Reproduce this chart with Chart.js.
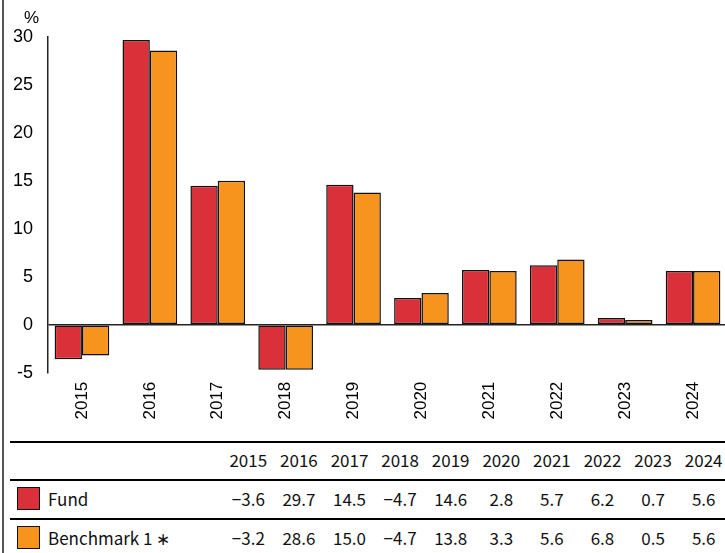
<!DOCTYPE html>
<html>
<head>
<meta charset="utf-8">
<script src="https://cdn.jsdelivr.net/npm/chart.js@4.4.1/dist/chart.umd.min.js"></script>
<style>
  html, body { margin: 0; padding: 0; background: #fff; width: 725px; height: 553px; overflow: hidden; position: relative; }
  #c { position: absolute; left: 0; top: 0; }
  .hline { position: absolute; left: 10px; width: 720px; height: 2px; background: #000; }
  .vborder { position: absolute; left: 2px; top: 0; width: 2px; height: 553px; background: #555; }
  .cell { position: absolute; font-family: "Noto Sans CJK JP", "Noto Sans", sans-serif; font-size: 17px; color: #111; text-align: center; line-height: 20px; white-space: nowrap; }
  .lab { position: absolute; font-family: "Noto Sans CJK JP", "Noto Sans", sans-serif; font-size: 17px; color: #111; line-height: 20px; white-space: nowrap; }
  .sw { position: absolute; left: 17px; width: 21px; height: 21px; border: 1.5px solid #111; }
</style>
</head>
<body>
<canvas id="c" width="730" height="440"></canvas>
<div class="vborder"></div>
<div id="table"></div>
<script>
const years = ['2015','2016','2017','2018','2019','2020','2021','2022','2023','2024'];
const fundValues = [-3.6, 29.7, 14.5, -4.7, 14.6, 2.8, 5.7, 6.2, 0.7, 5.6];
const benchValues = [-3.2, 28.6, 15.0, -4.7, 13.8, 3.3, 5.6, 6.8, 0.5, 5.6];
const seriesNames = ['Fund', 'Benchmark 1 \u2217'];
const yTicks = [30, 25, 20, 15, 10, 5, 0, -5];
const unitLabel = '%';

const RED = '#D9303A';
const ORANGE = '#F7941D';

const pctPlugin = {
  id: 'pct',
  afterDraw(chart) {
    const ctx = chart.ctx;
    ctx.save();
    ctx.font = '17px "Liberation Sans", Arial, sans-serif';
    ctx.fillStyle = '#000';
    ctx.textAlign = 'center';
    ctx.textBaseline = 'middle';
    ctx.fillText(unitLabel, 31.5, 18.5);
    ctx.restore();
  }
};

new Chart(document.getElementById('c'), {
  type: 'bar',
  data: {
    labels: years,
    datasets: [
      { label: seriesNames[0], data: fundValues, backgroundColor: RED, borderColor: '#111', borderWidth: 1.5, borderSkipped: false },
      { label: seriesNames[1], data: benchValues, backgroundColor: ORANGE, borderColor: '#111', borderWidth: 1.5, borderSkipped: false }
    ]
  },
  options: {
    responsive: false,
    animation: false,
    devicePixelRatio: 1,
    layout: { padding: { top: 37, right: 3, left: 0, bottom: 0 } },
    datasets: { bar: { barPercentage: 1.0, categoryPercentage: 0.805 } },
    plugins: { legend: { display: false }, tooltip: { enabled: false } },
    scales: {
      x: {
        grid: { display: false, drawTicks: false },
        border: { display: false },
        ticks: {
          color: '#000',
          font: { family: '"Liberation Sans", Arial, sans-serif', size: 17 },
          minRotation: 90, maxRotation: 90, padding: 9, autoSkip: false
        },
        afterFit(scale) { scale.height = 440 - 372.7; }
      },
      y: {
        min: -5, max: 30,
        afterBuildTicks(scale) { scale.ticks = yTicks.map(v => ({ value: v })); },
        grid: {
          drawTicks: false,
          color: ctx => (ctx.tick && ctx.tick.value === 0) ? '#222' : 'rgba(0,0,0,0)',
          lineWidth: 1.5
        },
        border: { display: true, color: '#222', width: 1.5 },
        ticks: {
          color: '#000',
          font: { family: '"Liberation Sans", Arial, sans-serif', size: 18 },
          padding: 15,
          callback: v => String(v)
        },
        afterFit(scale) { scale.width = 48; }
      }
    }
  },
  plugins: [pctPlugin]
});

// Data table below the chart
const table = document.getElementById('table');
const colX0 = 248.3, colStep = 50.6, colW = 50;
function addLine(y) {
  const d = document.createElement('div');
  d.className = 'hline'; d.style.top = (y - 1) + 'px';
  table.appendChild(d);
}
function addCell(text, cx, cy) {
  const d = document.createElement('div');
  d.className = 'cell';
  d.style.left = (cx - colW / 2) + 'px';
  d.style.width = colW + 'px';
  d.style.top = (cy - 10) + 'px';
  d.textContent = text;
  table.appendChild(d);
}
function fmt(v) { return v.toFixed(1).replace('-', '\u2212'); }
addLine(442.3); addLine(480); addLine(519.3);
years.forEach((y, i) => addCell(y, colX0 + i * colStep, 459.5));
const rows = [fundValues, benchValues];
const rowY = [499, 538];
const rowColors = [RED, ORANGE];
rows.forEach((vals, r) => {
  const sw = document.createElement('div');
  sw.className = 'sw'; sw.style.top = (rowY[r] - 12) + 'px'; sw.style.background = rowColors[r];
  table.appendChild(sw);
  const lab = document.createElement('div');
  lab.className = 'lab'; lab.style.left = '48px'; lab.style.top = (rowY[r] - 10) + 'px';
  lab.textContent = seriesNames[r];
  table.appendChild(lab);
  vals.forEach((v, i) => addCell(fmt(v), colX0 + i * colStep, rowY[r]));
});
</script>
</body>
</html>
